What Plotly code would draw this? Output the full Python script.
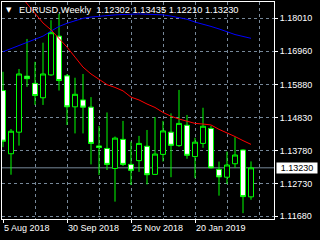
import plotly.graph_objects as go

dates = ["2018-08-05", "2018-08-12", "2018-08-19", "2018-08-26", "2018-09-02", "2018-09-09",
         "2018-09-16", "2018-09-23", "2018-09-30", "2018-10-07", "2018-10-14", "2018-10-21",
         "2018-10-28", "2018-11-04", "2018-11-11", "2018-11-18", "2018-11-25", "2018-12-02",
         "2018-12-09", "2018-12-16", "2018-12-23", "2018-12-30", "2019-01-06", "2019-01-13",
         "2019-01-20", "2019-01-27", "2019-02-03", "2019-02-10", "2019-02-17", "2019-02-24",
         "2019-03-03", "2019-03-10"]
opens = [1.1570, 1.1368, 1.1437, 1.1616, 1.1593, 1.1547, 1.1620, 1.1744, 1.1617, 1.1518,
         1.1540, 1.1517, 1.1393, 1.1385, 1.1321, 1.1414, 1.1334, 1.1346, 1.1392, 1.1302,
         1.1366, 1.1437, 1.1394, 1.1459, 1.1359, 1.1401, 1.1449, 1.1318, 1.1293, 1.1336,
         1.1380, 1.12302]
highs = [1.1630, 1.1447, 1.1639, 1.1735, 1.1662, 1.1723, 1.1795, 1.1815, 1.1623, 1.1611,
         1.1623, 1.1549, 1.1457, 1.1500, 1.1423, 1.1473, 1.1407, 1.1425, 1.1444, 1.1485,
         1.1473, 1.1497, 1.1572, 1.1492, 1.1419, 1.1515, 1.1457, 1.1343, 1.1375, 1.1421,
         1.1382, 1.13435]
lows = [1.1389, 1.1301, 1.1394, 1.1582, 1.1524, 1.1524, 1.1617, 1.1570, 1.1460, 1.1433,
        1.1433, 1.1334, 1.1300, 1.1316, 1.1215, 1.1329, 1.1268, 1.1310, 1.1270, 1.1300,
        1.1343, 1.1293, 1.1390, 1.1352, 1.1290, 1.1387, 1.1321, 1.1234, 1.1271, 1.1323,
        1.1178, 1.12210]
closes = [1.1408, 1.1440, 1.1623, 1.1608, 1.1554, 1.1623, 1.1755, 1.1602, 1.1518, 1.1558,
          1.1517, 1.1401, 1.1388, 1.1334, 1.1418, 1.1334, 1.1315, 1.1401, 1.1301, 1.1367,
          1.1441, 1.1395, 1.1465, 1.1363, 1.1405, 1.1456, 1.1323, 1.1294, 1.1332, 1.1364,
          1.1231, 1.13230]
ma_slow = [1.1694, 1.1705, 1.1714, 1.1724, 1.1734, 1.1744, 1.1760, 1.1775, 1.1785, 1.1794,
           1.1801, 1.1805, 1.1808, 1.1810, 1.1812, 1.1813, 1.1815, 1.1815, 1.1814, 1.1813,
           1.1812, 1.1808, 1.1804, 1.1798, 1.1789, 1.1783, 1.1775, 1.1767, 1.1757, 1.1749,
           1.1743, 1.1737]
ma_fast = [None, None, 1.1879, 1.1848, 1.1818, 1.1786, 1.1764, 1.1738, 1.1709, 1.1677,
           1.1645, 1.1623, 1.1607, 1.1589, 1.1580, 1.1569, 1.1549, 1.1540, 1.1527, 1.1516,
           1.1500, 1.1488, 1.1479, 1.1471, 1.1465, 1.1463, 1.1460, 1.1446, 1.1435, 1.1423,
           1.1410, 1.1398]
y_ticks = [1.18010, 1.16960, 1.15880, 1.14830, 1.13780, 1.12730, 1.11680]
y_ticktext = ["1.18010", "1.16960", "1.15880", "1.14830", "1.13780", "1.12730", "1.11680"]
x_label_dates = ["2018-08-05", "2018-09-30", "2018-11-25", "2019-01-20"]
x_label_text = ["5 Aug 2018", "30 Sep 2018", "25 Nov 2018", "20 Jan 2019"]
x_minor_grid = ["2018-09-02", "2018-10-28", "2018-12-23", "2019-02-17", "2019-03-17"]
title_text = "EURUSD,Weekly  1.12302 1.13435 1.12210 1.13230"

FONT = "Liberation Sans, Arial"
GRID = "#778899"

fig = go.Figure()
fig.add_trace(go.Scatter(x=dates, y=ma_slow, mode="lines",
                         line=dict(color="#0000FF", width=1), hoverinfo="skip"))
fig.add_trace(go.Scatter(x=dates, y=ma_fast, mode="lines",
                         line=dict(color="#FF0000", width=1), hoverinfo="skip"))
fig.add_trace(go.Candlestick(
    x=dates, open=opens, high=highs, low=lows, close=closes,
    increasing=dict(line=dict(color="#00FF00", width=1), fillcolor="#000000"),
    decreasing=dict(line=dict(color="#00FF00", width=1), fillcolor="#FFFFFF"),
    whiskerwidth=0,
))

fig.add_shape(type="line", xref="paper", x0=0, x1=1, yref="y",
              y0=closes[-1], y1=closes[-1], line=dict(color=GRID, width=1), layer="below")

fig.add_annotation(xref="paper", yref="paper", x=0, y=1, xanchor="left", yanchor="middle",
                   xshift=15, yshift=-8, text=title_text, showarrow=False,
                   font=dict(family=FONT, size=9.3, color="#FFFFFF"))
fig.add_annotation(xref="paper", yref="paper", x=0, y=1, xanchor="center", yanchor="middle",
                   xshift=7, yshift=-8, text="▼", showarrow=False,
                   font=dict(family="DejaVu Sans", size=7, color="#FFFFFF"))
fig.add_annotation(xref="paper", yref="y", x=1, y=closes[-1], xanchor="left", yanchor="middle",
                   xshift=2, text="1.13230", showarrow=False, bgcolor="#FFFFFF",
                   width=40, height=10, borderpad=0,
                   font=dict(family=FONT, size=9, color="#000000"))

fig.update_layout(
    width=320, height=240,
    margin=dict(l=2, r=46, t=2, b=21, pad=0),
    paper_bgcolor="#000000", plot_bgcolor="#000000",
    showlegend=False,
    boxgap=0.25, boxgroupgap=0.17,
    font=dict(family=FONT, size=9, color="#FFFFFF"),
    xaxis=dict(
        type="date",
        range=["2018-08-04 03:00", "2019-03-30 03:00"],
        rangeslider=dict(visible=False),
        tickvals=x_label_dates, ticktext=x_label_text,
        tickangle=0, automargin=False,
        ticks="outside", ticklen=3, tickcolor="#FFFFFF",
        ticklabelposition="outside right",
        showgrid=True, gridcolor=GRID, griddash="3px,3px", gridwidth=1,
        minor=dict(tickvals=x_minor_grid, showgrid=True, gridcolor=GRID,
                   griddash="3px,3px", gridwidth=1, ticks=""),
        showline=True, linecolor="#FFFFFF", linewidth=1, mirror=True,
        zeroline=False,
        tickfont=dict(family=FONT, size=9, color="#FFFFFF"),
    ),
    yaxis=dict(
        side="right", automargin=False,
        range=[1.11594, 1.18531],
        tickvals=y_ticks, ticktext=y_ticktext,
        ticks="outside", ticklen=3, tickcolor="#FFFFFF",
        showgrid=True, gridcolor=GRID, griddash="3px,3px", gridwidth=1,
        showline=True, linecolor="#FFFFFF", linewidth=1, mirror=True,
        zeroline=False,
        tickfont=dict(family=FONT, size=9, color="#FFFFFF"),
    ),
)

fig.write_html("out.html")
